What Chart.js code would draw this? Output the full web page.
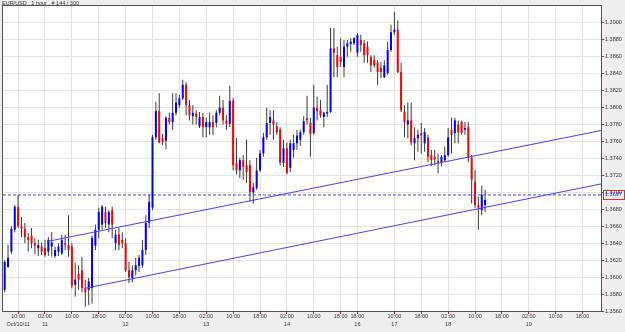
<!DOCTYPE html>
<html>
<head>
<meta charset="utf-8">
<script src="https://cdn.jsdelivr.net/npm/chart.js@4.4.1/dist/chart.umd.min.js"></script>
<style>
  html, body { margin: 0; padding: 0; background: #eeeeee; }
  canvas { display: block; }
</style>
</head>
<body>
<canvas id="chart" width="625" height="332"></canvas>
<script>
// EUR/USD hourly bars
const opens = [
  1.3585, 1.3612, 1.3630, 1.3656, 1.3683, 1.3660, 1.3657, 1.3647, 1.3649, 1.3640,
  1.3634, 1.3636, 1.3634, 1.3630, 1.3636, 1.3625, 1.3630, 1.3628, 1.3640, 1.3638,
  1.3636, 1.3591, 1.3604, 1.3608, 1.3587, 1.3585, 1.3587, 1.3637, 1.3656, 1.3662,
  1.3677, 1.3662, 1.3679, 1.3640, 1.3650, 1.3644, 1.3640, 1.3608, 1.3599, 1.3608,
  1.3613, 1.3614, 1.3632, 1.3664, 1.3682, 1.3765, 1.3796, 1.3764, 1.3761, 1.3788,
  1.3783, 1.3794, 1.3803, 1.3811, 1.3827, 1.3803, 1.3790, 1.3793, 1.3778, 1.3789,
  1.3777, 1.3777, 1.3783, 1.3782, 1.3794, 1.3800, 1.3785, 1.3781, 1.3808, 1.3735,
  1.3726, 1.3738, 1.3732, 1.3732, 1.3700, 1.3705, 1.3726, 1.3746, 1.3765, 1.3782,
  1.3785, 1.3778, 1.3774, 1.3735, 1.3752, 1.3729, 1.3750, 1.3758, 1.3762, 1.3771,
  1.3788, 1.3782, 1.3770, 1.3800, 1.3797, 1.3789, 1.3793, 1.3795, 1.3870, 1.3862,
  1.3860, 1.3848, 1.3872, 1.3875, 1.3876, 1.3865, 1.3880, 1.3876, 1.3872, 1.3860,
  1.3856, 1.3853, 1.3847, 1.3836, 1.3841, 1.3868, 1.3889, 1.3892, 1.3842, 1.3795,
  1.3780, 1.3785, 1.3758, 1.3764, 1.3770, 1.3758, 1.3765, 1.3744, 1.3742, 1.3737,
  1.3735, 1.3738, 1.3744, 1.3774, 1.3770, 1.3780, 1.3783, 1.3774, 1.3777, 1.3741,
  1.3712, 1.3685, 1.3679, 1.3685
];
const highs = [
  1.3620, 1.3638, 1.3660, 1.3685, 1.3697, 1.3671, 1.3664, 1.3652, 1.3658, 1.3646,
  1.3644, 1.3641, 1.3644, 1.3647, 1.3653, 1.3636, 1.3640, 1.3650, 1.3650, 1.3673,
  1.3640, 1.3617, 1.3614, 1.3624, 1.3597, 1.3599, 1.3649, 1.3662, 1.3682, 1.3685,
  1.3683, 1.3679, 1.3683, 1.3656, 1.3658, 1.3653, 1.3646, 1.3618, 1.3614, 1.3623,
  1.3626, 1.3644, 1.3673, 1.3697, 1.3768, 1.3807, 1.3817, 1.3769, 1.3790, 1.3794,
  1.3817, 1.3817, 1.3815, 1.3833, 1.3830, 1.3809, 1.3803, 1.3797, 1.3795, 1.3794,
  1.3788, 1.3794, 1.3791, 1.3797, 1.3814, 1.3809, 1.3791, 1.3826, 1.3811, 1.3764,
  1.3741, 1.3744, 1.3762, 1.3738, 1.3711, 1.3741, 1.3750, 1.3770, 1.3800, 1.3797,
  1.3797, 1.3783, 1.3777, 1.3762, 1.3759, 1.3762, 1.3768, 1.3774, 1.3774, 1.3790,
  1.3814, 1.3788, 1.3827, 1.3813, 1.3809, 1.3795, 1.3827, 1.3894, 1.3894, 1.3872,
  1.3882, 1.3880, 1.3880, 1.3882, 1.3883, 1.3888, 1.3886, 1.3880, 1.3878, 1.3862,
  1.3862, 1.3856, 1.3854, 1.3856, 1.3878, 1.3898, 1.3913, 1.3903, 1.3853, 1.3803,
  1.3806, 1.3806, 1.3777, 1.3774, 1.3782, 1.3776, 1.3768, 1.3750, 1.3750, 1.3746,
  1.3744, 1.3754, 1.3776, 1.3788, 1.3788, 1.3785, 1.3785, 1.3783, 1.3783, 1.3744,
  1.3726, 1.3695, 1.3708, 1.3703
];
const lows = [
  1.3582, 1.3611, 1.3627, 1.3653, 1.3658, 1.3647, 1.3640, 1.3630, 1.3634, 1.3627,
  1.3625, 1.3626, 1.3624, 1.3625, 1.3624, 1.3623, 1.3625, 1.3626, 1.3632, 1.3624,
  1.3587, 1.3577, 1.3585, 1.3582, 1.3565, 1.3567, 1.3569, 1.3632, 1.3646, 1.3656,
  1.3658, 1.3653, 1.3646, 1.3632, 1.3632, 1.3634, 1.3606, 1.3593, 1.3594, 1.3602,
  1.3606, 1.3611, 1.3626, 1.3658, 1.3679, 1.3762, 1.3758, 1.3756, 1.3751, 1.3780,
  1.3774, 1.3791, 1.3800, 1.3809, 1.3791, 1.3785, 1.3780, 1.3780, 1.3776, 1.3765,
  1.3765, 1.3768, 1.3768, 1.3777, 1.3791, 1.3780, 1.3774, 1.3777, 1.3726, 1.3721,
  1.3717, 1.3715, 1.3711, 1.3689, 1.3687, 1.3703, 1.3724, 1.3742, 1.3762, 1.3768,
  1.3762, 1.3768, 1.3732, 1.3730, 1.3721, 1.3724, 1.3741, 1.3750, 1.3755, 1.3768,
  1.3780, 1.3742, 1.3768, 1.3785, 1.3788, 1.3777, 1.3789, 1.3794, 1.3836, 1.3836,
  1.3848, 1.3836, 1.3860, 1.3866, 1.3874, 1.3860, 1.3866, 1.3853, 1.3853, 1.3842,
  1.3847, 1.3827, 1.3835, 1.3835, 1.3839, 1.3866, 1.3886, 1.3841, 1.3795, 1.3765,
  1.3764, 1.3756, 1.3738, 1.3748, 1.3746, 1.3748, 1.3736, 1.3731, 1.3732, 1.3723,
  1.3731, 1.3736, 1.3742, 1.3746, 1.3758, 1.3758, 1.3768, 1.3768, 1.3736, 1.3687,
  1.3682, 1.3656, 1.3673, 1.3677
];
const closes = [
  1.3618, 1.3623, 1.3657, 1.3683, 1.3660, 1.3657, 1.3647, 1.3644, 1.3640, 1.3637,
  1.3638, 1.3630, 1.3626, 1.3644, 1.3641, 1.3632, 1.3636, 1.3644, 1.3638, 1.3632,
  1.3590, 1.3597, 1.3597, 1.3587, 1.3582, 1.3595, 1.3646, 1.3656, 1.3677, 1.3683,
  1.3664, 1.3677, 1.3662, 1.3650, 1.3638, 1.3640, 1.3608, 1.3600, 1.3608, 1.3614,
  1.3623, 1.3632, 1.3664, 1.3689, 1.3765, 1.3796, 1.3759, 1.3759, 1.3788, 1.3783,
  1.3794, 1.3806, 1.3811, 1.3827, 1.3803, 1.3791, 1.3794, 1.3789, 1.3789, 1.3777,
  1.3783, 1.3783, 1.3777, 1.3794, 1.3800, 1.3785, 1.3781, 1.3808, 1.3732, 1.3726,
  1.3738, 1.3730, 1.3724, 1.3700, 1.3706, 1.3726, 1.3746, 1.3765, 1.3782, 1.3789,
  1.3780, 1.3771, 1.3735, 1.3752, 1.3723, 1.3758, 1.3758, 1.3767, 1.3771, 1.3784,
  1.3785, 1.3769, 1.3800, 1.3796, 1.3791, 1.3794, 1.3795, 1.3870, 1.3865, 1.3848,
  1.3854, 1.3872, 1.3876, 1.3878, 1.3882, 1.3886, 1.3874, 1.3862, 1.3862, 1.3850,
  1.3850, 1.3842, 1.3842, 1.3850, 1.3868, 1.3889, 1.3892, 1.3842, 1.3797, 1.3783,
  1.3785, 1.3759, 1.3764, 1.3768, 1.3767, 1.3771, 1.3742, 1.3738, 1.3739, 1.3735,
  1.3742, 1.3744, 1.3765, 1.3768, 1.3785, 1.3771, 1.3770, 1.3776, 1.3741, 1.3715,
  1.3685, 1.3682, 1.3697, 1.3691
];

// time axis: bar slot of each label, the time and the day under it
const timeTickIdx  = [4, 12, 20, 28, 36, 44, 52, 60, 68, 76, 84, 92, 100, 105, 116, 124, 132, 140, 148, 156, 164, 172];
const timeTickText = ['10:00', '02:00', '10:00', '18:00', '02:00', '10:00', '18:00', '02:00', '10:00', '18:00', '02:00',
                      '10:00', '18:00', '18:00', '10:00', '18:00', '02:00', '10:00', '18:00', '02:00', '10:00', '18:00'];
const dateTickText = ['Oct/10/11', '11', '', '', '12', '', '', '13', '', '', '14',
                      '', '', '16', '17', '', '18', '', '', '19', '', ''];
const slotCount = 178;

// price axis
const priceTicks = [1.3560, 1.3580, 1.3600, 1.3620, 1.3640, 1.3660, 1.3680, 1.3700, 1.3720,
                    1.3740, 1.3760, 1.3780, 1.3800, 1.3820, 1.3840, 1.3860, 1.3880, 1.3900];
const priceMin = 1.3560;
const priceMax = 1.3920;
const markerPrice = 1.3697;

// the two drawn trend lines (bar slot, price)
const upperLineX = [12.6, 177.5];
const upperLineY = [1.3642, 1.3773];
const lowerLineX = [24.2, 177.5];
const lowerLineY = [1.3587, 1.3710];

const titleText = 'EUR/USD , 1 hour , # 144 / 300';

const UP = '#0000ff';
const DOWN = '#ff0000';
const LINE_BLUE = '#4444ff';
const GRID = '#e3e3e3';
const TICK_RED = '#d81818';
const FONT = { family: 'Liberation Sans, Arial, sans-serif', size: 5.5 };

const bodies = opens.map((o, i) => ({ x: i, y: [o, closes[i]] }));
const wicks = lows.map((l, i) => ({ x: i, y: [l, highs[i]] }));
const bodyColors = opens.map((o, i) => closes[i] >= o ? UP : DOWN);

const plotFrame = {
  id: 'plotFrame',
  beforeDraw(chart) {
    const a = chart.chartArea, ctx = chart.ctx;
    ctx.save();
    ctx.fillStyle = '#ffffff';
    ctx.fillRect(a.left, a.top, a.right - a.left, a.bottom - a.top);
    ctx.restore();
  },
  afterDraw(chart) {
    const a = chart.chartArea, ctx = chart.ctx;
    ctx.save();
    ctx.strokeStyle = '#555555';
    ctx.lineWidth = 1;
    ctx.strokeRect(Math.round(a.left) - 0.5, Math.round(a.top) - 0.5,
                   Math.round(a.right - a.left) + 1, Math.round(a.bottom - a.top) + 1);
    // title
    ctx.fillStyle = '#333333';
    ctx.font = FONT.size + 'px ' + FONT.family;
    ctx.textBaseline = 'middle';
    ctx.textAlign = 'left';
    ctx.fillText(titleText, 2, 3.5);
    // red box round the marker price label
    const y = chart.scales.y.getPixelForValue(markerPrice);
    ctx.strokeStyle = '#e03030';
    ctx.strokeRect(Math.round(a.right) + 2.5, Math.round(y) - 4.5, 21, 9);
    ctx.restore();
  }
};

new Chart(document.getElementById('chart'), {
  type: 'bar',
  data: {
    datasets: [
      {
        type: 'line', data: upperLineX.map((x, i) => ({ x, y: upperLineY[i] })),
        borderColor: LINE_BLUE, borderWidth: 1, pointRadius: 0, order: -2
      },
      {
        type: 'line', data: lowerLineX.map((x, i) => ({ x, y: lowerLineY[i] })),
        borderColor: LINE_BLUE, borderWidth: 1, pointRadius: 0, order: -2
      },
      {
        type: 'line', data: [{ x: -0.5, y: markerPrice }, { x: slotCount - 0.5, y: markerPrice }],
        borderColor: LINE_BLUE, borderWidth: 1, borderDash: [3, 2], pointRadius: 0, order: -1
      },
      {
        data: bodies, backgroundColor: bodyColors, grouped: false,
        maxBarThickness: 2, minBarLength: 1, borderWidth: 0, order: 0
      },
      {
        data: wicks, backgroundColor: '#3a3a3a', grouped: false,
        maxBarThickness: 1, minBarLength: 1, borderWidth: 0, order: 1
      }
    ]
  },
  options: {
    responsive: false,
    devicePixelRatio: 1,
    animation: false,
    events: [],
    layout: { padding: { left: 3, top: 6, right: 0, bottom: 0 } },
    plugins: { legend: { display: false }, tooltip: { enabled: false }, title: { display: false } },
    scales: {
      x: {
        type: 'linear',
        offset: false,
        min: -0.5,
        max: slotCount - 0.5,
        afterBuildTicks: (scale) => { scale.ticks = timeTickIdx.map(v => ({ value: v })); },
        afterFit: (scale) => { scale.height = 21; scale.paddingLeft = 0; scale.paddingRight = 0; },
        grid: { offset: false, color: GRID, tickColor: TICK_RED, tickLength: 3, lineWidth: 1 },
        border: { color: '#555555' },
        ticks: {
          autoSkip: false, maxRotation: 0, padding: -2, color: '#333333',
          font: { ...FONT, lineHeight: 1.5 },
          callback: (v, i) => dateTickText[i] ? [timeTickText[i], dateTickText[i]] : timeTickText[i]
        }
      },
      y: {
        type: 'linear',
        position: 'right',
        min: priceMin,
        max: priceMax,
        afterBuildTicks: (scale) => {
          scale.ticks = priceTicks.concat([markerPrice]).sort((a, b) => a - b).map(v => ({ value: v }));
        },
        afterFit: (scale) => { scale.width = 24; scale.paddingTop = 0; scale.paddingBottom = 0; },
        grid: {
          color: (c) => c.tick && c.tick.value === markerPrice ? 'rgba(0,0,0,0)' : GRID,
          tickColor: (c) => c.tick && c.tick.value === markerPrice ? 'rgba(0,0,0,0)' : TICK_RED,
          tickLength: 3
        },
        border: { color: '#555555' },
        ticks: {
          autoSkip: false, padding: 1, font: FONT,
          color: (c) => c.tick && c.tick.value === markerPrice ? '#2222ee' : '#333333',
          callback: (v) => v.toFixed(4)
        }
      }
    }
  },
  plugins: [plotFrame]
});
</script>
</body>
</html>
